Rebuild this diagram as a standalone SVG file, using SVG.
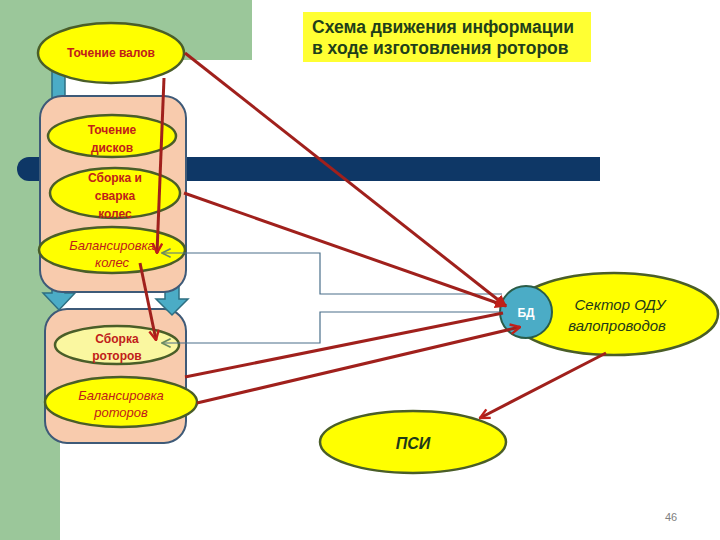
<svg xmlns="http://www.w3.org/2000/svg" width="720" height="540" viewBox="0 0 720 540">
<style>
.bg{fill:#9BC79A}
.box{fill:#F8CBAD;stroke:#3E5A78;stroke-width:2}
.ell{fill:#FFFF00;stroke:#4A5E28;stroke-width:2.5}
.pale{fill:#FAF7A0}
.lbl{font-family:"Liberation Sans",Arial,sans-serif;font-size:12px;font-weight:bold;fill:#C0201A;text-anchor:middle}
.it{font-style:italic;font-weight:normal}
.grn{fill:#1F3A18}
.teal{fill:#4BACC6;stroke:#2E6F82;stroke-width:1.5}
.red{stroke:#A0201C;stroke-width:3;fill:none}
.thin{stroke:#4A6F8A;stroke-width:1.2;fill:none}
</style>
<defs>
<marker id="af" viewBox="0 0 10 10" refX="9" refY="5" markerWidth="4" markerHeight="4" orient="auto" markerUnits="strokeWidth">
<path d="M0,0 L10,5 L0,10 z" fill="#C0201A"/>
</marker>
<marker id="ao" viewBox="0 0 10 10" refX="9" refY="5" markerWidth="4" markerHeight="4" orient="auto" markerUnits="strokeWidth">
<path d="M1,1 L9,5 L1,9" fill="none" stroke="#C0201A" stroke-width="2"/>
</marker>
<marker id="ag" viewBox="0 0 10 10" refX="9" refY="5" markerWidth="9" markerHeight="9" orient="auto" markerUnits="strokeWidth">
<path d="M1,1 L9,5 L1,9" fill="none" stroke="#6A8A60" stroke-width="1.5"/>
</marker>
</defs>
<rect width="720" height="540" fill="#FFFFFF"/>
<rect class="bg" x="0" y="0" width="60" height="540"/>
<rect class="bg" x="0" y="0" width="252" height="60"/>
<path d="M29,157 H600 V181 H29 A12,12 0 0 1 29,157 z" fill="#0E3766"/>
<g id="lower-box"><rect class="box" x="45" y="309" width="141" height="134" rx="22"/></g>
<g id="flow-arrows">
<path class="teal" d="M52,70 H65 V293 H75 L59,310 L43,293 H52 z"/>
<path class="teal" d="M165,270 H179 V299 H188 L172,315 L156,299 H165 z"/>
</g>
<g id="upper-box"><rect class="box" x="40" y="96" width="146" height="196" rx="22"/></g>
<g id="title"><rect x="303" y="12" width="288" height="50" fill="#FFFF33"/>
<text x="312" y="33" font-family="Liberation Sans,Arial,sans-serif" font-size="17.5" font-weight="bold" fill="#1F3F1A">Схема движения информации</text>
<text x="312" y="54" font-family="Liberation Sans,Arial,sans-serif" font-size="17.5" font-weight="bold" fill="#1F3F1A">в ходе изготовления роторов</text></g>
<g id="n-valov"><ellipse class="ell" cx="111" cy="53" rx="73" ry="30"/><text class="lbl" x="111" y="57">Точение валов</text></g>
<g id="n-diskov"><ellipse class="ell" cx="112" cy="136" rx="64" ry="21"/><text class="lbl" x="112" y="134">Точение</text><text class="lbl" x="112" y="152">дисков</text></g>
<g id="n-sborka-koles"><ellipse class="ell" cx="115" cy="193" rx="65" ry="25"/><text class="lbl" x="115" y="182">Сборка и</text><text class="lbl" x="115" y="200">сварка</text><text class="lbl" x="115" y="218">колес</text></g>
<g id="n-bal-koles"><ellipse class="ell" cx="112" cy="250" rx="73" ry="23"/><text class="lbl it" x="112" y="250" style="font-size:13px">Балансировка</text><text class="lbl it" x="112" y="267" style="font-size:13px">колес</text></g>
<g id="n-sborka-rot"><ellipse class="ell pale" cx="117" cy="345" rx="62" ry="19"/><text class="lbl" x="117" y="343">Сборка</text><text class="lbl" x="117" y="360">роторов</text></g>
<g id="n-bal-rot"><ellipse class="ell" cx="121" cy="402" rx="76" ry="25"/><text class="lbl it" x="121" y="400" style="font-size:13px">Балансировка</text><text class="lbl it" x="121" y="417" style="font-size:13px">роторов</text></g>
<g id="n-sector"><ellipse class="ell" cx="614" cy="314" rx="104" ry="41"/><text class="lbl it grn" x="620" y="310" style="font-size:15px">Сектор ОДУ</text><text class="lbl it grn" x="617" y="331" style="font-size:15px">валопроводов</text></g>
<g id="n-bd"><circle cx="526" cy="312" r="26" fill="#4BACC6" stroke="#2A5C48" stroke-width="2"/><text x="526" y="317" font-family="Liberation Sans,Arial,sans-serif" font-size="12" font-weight="bold" fill="#FFFFFF" text-anchor="middle">БД</text></g>
<g id="n-psi"><ellipse class="ell" cx="413" cy="442" rx="93" ry="31"/><text class="lbl it grn" x="413" y="449" style="font-size:16px;font-weight:bold">ПСИ</text></g>
<g id="connectors">
<path class="thin" d="M502,294 H320 V253 H162" marker-end="url(#ag)"/>
<path class="thin" d="M502,312 H320 V343 H162" marker-end="url(#ag)"/>
<path class="red" d="M185,53 L506,306" marker-end="url(#af)"/>
<path class="red" d="M184,193 L506,306" marker-end="url(#af)"/>
<path class="red" d="M164,78 L157,253" marker-end="url(#ao)"/>
<path class="red" d="M140,263 L156,340" marker-end="url(#ao)"/>
<path class="red" d="M185,377 L503,313"/>
<path class="red" d="M197,403 L520,327" marker-end="url(#ao)"/>
<path class="red" d="M606,353 L480,418" marker-end="url(#ao)"/>
</g>
<text x="671" y="521" font-family="Liberation Sans,Arial,sans-serif" font-size="11" fill="#808080" text-anchor="middle">46</text>
</svg>
